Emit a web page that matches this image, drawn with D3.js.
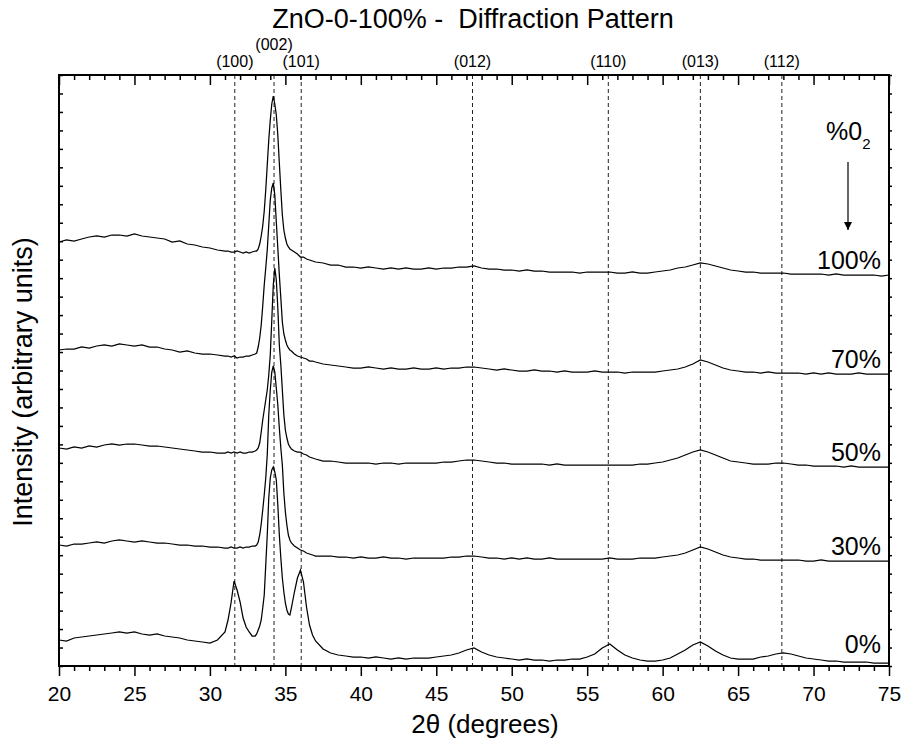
<!DOCTYPE html>
<html>
<head>
<meta charset="utf-8">
<script src="https://cdn.jsdelivr.net/npm/d3@7"></script>
<style>
body { margin: 0; background: #fff; }
text { font-family: "Liberation Sans", Arial, sans-serif; fill: #000; }
</style>
</head>
<body>
<div id="chart"></div>
<script>
// XRD patterns of ZnO films, offset by O2 fraction (arbitrary units)
var twoTheta = [20,20.5,21,21.5,22,22.5,23,23.5,24,24.5,25,25.5,26,26.5,27,27.5,28,28.5,29,29.5,30,30.5,31,
  31.2,31.4,31.6,31.8,32,32.2,32.4,32.6,32.8,
  33,33.1,33.2,33.3,33.4,33.5,33.6,33.7,33.8,33.9,34,34.1,34.2,34.3,34.4,34.5,34.6,34.7,34.8,34.9,35,35.1,35.2,35.3,35.4,
  35.6,35.8,36,36.2,36.4,36.6,36.8,37,
  37.5,38,38.5,39,39.5,40,40.5,41,41.5,42,42.5,43,43.5,44,44.5,45,45.5,46,46.5,47,47.5,48,48.5,49,49.5,50,
  50.5,51,51.5,52,52.5,53,53.5,54,54.5,55,55.5,56,56.5,57,57.5,58,58.5,59,59.5,60,60.5,61,61.5,62,62.5,63,63.5,64,64.5,65,
  65.5,66,66.5,67,67.5,68,68.5,69,69.5,70,70.5,71,71.5,72,72.5,73,73.5,74,74.5,75];

var i100 = [424,426,425,427,429,430,429,431,431,430,432,430,429,428,427,424,425,422,421,419,418,416,415,
  415,414,414,415,414,413,414,413,414,
  415,415,417,422,430,440,455,476,501,526,546,562,570,562,551,531,503,476,451,436,428,422,419,417,416,
  414,412,409,409,407,406,405,404,
  403,401,401,399,399,398, 399,398,397,398,397,398,397,397,398,397, 398,398,399,399,400,398,397,397,396,396,
  395,396,395,395,394,394,394,394,393,394, 394,394,394,393,393,394,393,393,394,395, 396,398,399,401,403,402,400,398,396,395,
  394,394,393,393,393,393,392,392,392,392, 392,391,392,391,391,391,391,391,390,391];

var i70 = [316,317,317,319,318,320,321,320,322,321,320,321,319,319,317,316,314,315,313,312,312,311,310,
  310,309,310,308,309,309,310,310,311,
  312,313,319,328,341,360,381,398,416,441,466,478,483,471,444,418,391,368,344,332,326,321,318,316,315,
  312,310,309,308,307,305,305,304,
  302,301,300,299,298,298, 299,298,297,298,297,297,298,297,297,298, 297,298,298,299,299,298,297,296,297,296,
  295,295,296,295,295,294,295,294,294,294, 295,294,294,294,293,294,294,294,294,295, 296,297,299,302,306,304,301,298,296,295,
  294,294,293,294,293,293,293,293,292,293, 292,293,292,292,292,293,292,292,292,292];

var i50 = [218,217,219,218,220,219,221,222,221,222,222,221,220,220,219,218,217,216,215,214,214,213,213,
  214,213,214,213,214,213,213,214,214,
  215,216,218,223,234,246,256,266,276,291,311,346,381,398,386,358,321,301,276,251,236,228,222,219,217,
  215,214,214,212,211,209,208,207,
  205,205,204,203,203,203, 203,202,203,203,202,203,203,203,203,203, 204,204,205,206,206,205,204,203,203,202,
  202,202,202,202,201,202,201,201,201,201, 201,201,201,201,201,201,202,202,203,204, 206,208,211,214,216,214,211,208,205,204,
  203,202,202,202,203,203,202,201,201,200, 200,200,200,199,200,199,199,199,199,199];

var i30 = [121,120,122,122,123,124,123,125,126,125,124,125,124,123,123,122,121,121,120,120,119,119,118,
  118,119,118,118,119,118,119,119,120,
  120,121,124,131,142,156,171,188,211,251,276,294,300,294,278,261,238,218,201,173,154,141,131,126,123,
  120,118,116,115,113,112,111,110,
  110,110,109,109,108,109, 108,108,109,108,108,107,108,108,108,108, 108,109,109,110,110,109,108,108,107,108,
  107,108,107,107,108,107,107,107,107,107, 107,107,108,107,107,107,108,108,108,109, 110,111,113,116,119,117,114,111,109,108,
  107,107,106,106,106,106,106,106,105,105, 106,105,105,105,105,105,105,105,105,105];

var i0 = [26,25,28,29,30,31,32,33,34,33,34,32,31,32,30,29,28,26,25,24,23,26,34,
  46,63,85,76,64,48,39,34,30,
  30,32,36,40,46,58,71,101,131,168,188,196,199,194,186,161,131,108,88,74,63,56,52,51,58,
  74,88,96,84,59,41,31,25,
  17,13,11,10,9,9, 8,9,8,7,8,7,8,8,8,9, 10,11,13,16,18,14,11,9,8,7,
  6,7,6,6,5,6,6,7,7,9, 12,18,22,16,11,8,6,5,5,6, 8,12,16,21,24,20,15,11,8,7,
  7,7,9,10,12,13,12,10,8,7, 6,5,5,4,4,4,4,3,3,3];

var seriesNames = ["0%", "30%", "50%", "70%", "100%"];
var seriesValues = [i0, i30, i50, i70, i100];

var hklLabels = ["(100)", "(002)", "(101)", "(012)", "(110)", "(013)", "(112)"];
var hklPositions = [31.65, 34.25, 36.05, 47.4, 56.4, 62.5, 67.9];

var xTicks = [20, 25, 30, 35, 40, 45, 50, 55, 60, 65, 70, 75];

var width = 902, height = 745;
var margin = {top: 75, right: 13, bottom: 79, left: 59};

var svg = d3.select("#chart").append("svg")
    .attr("width", width)
    .attr("height", height);

var x = d3.scaleLinear().domain([20, 75]).range([margin.left, width - margin.right]);
var y = d3.scaleLinear().domain([0, 591]).range([height - margin.bottom, margin.top]);

// dashed reference lines
svg.selectAll("line.hkl")
    .data(hklPositions)
    .enter().append("line")
    .attr("class", "hkl")
    .attr("x1", d => x(d)).attr("x2", d => x(d))
    .attr("y1", margin.top).attr("y2", height - margin.bottom)
    .attr("stroke", "#222")
    .attr("stroke-width", 1)
    .attr("stroke-dasharray", "4,3");

svg.selectAll("text.hkl")
    .data(hklLabels)
    .enter().append("text")
    .attr("class", "hkl")
    .attr("x", (d, i) => x(hklPositions[i]))
    .attr("y", (d, i) => d == "(002)" ? 50 : 67)
    .attr("text-anchor", "middle")
    .style("font-size", "16px")
    .text(d => d);

// traces
var line = d3.line()
    .x((d, i) => x(twoTheta[i]))
    .y(d => y(d));

svg.selectAll("path.trace")
    .data(seriesValues)
    .enter().append("path")
    .attr("class", "trace")
    .attr("d", d => line(d))
    .attr("fill", "none")
    .attr("stroke", "#000")
    .attr("stroke-width", 1.25);

svg.selectAll("text.pct")
    .data(seriesNames)
    .enter().append("text")
    .attr("class", "pct")
    .attr("x", x(75) - 8)
    .attr("y", (d, i) => y(seriesValues[i][seriesValues[i].length - 1]) - (i == 0 ? 10 : 6))
    .attr("text-anchor", "end")
    .style("font-size", "25px")
    .text(d => d);

// axes
var minorTicks = d3.range(21, 75, 1).filter(d => d % 5 != 0);

var bottomAxis = svg.append("g")
    .attr("transform", `translate(0, ${height - margin.bottom})`)
    .call(d3.axisBottom(x).tickValues(xTicks).tickSize(10).tickPadding(10).tickFormat(d3.format("d")));
bottomAxis.append("g").call(d3.axisBottom(x).tickValues(minorTicks).tickSize(5).tickFormat(""));

var topAxis = svg.append("g")
    .attr("transform", `translate(0, ${margin.top})`)
    .call(d3.axisBottom(x).tickValues(xTicks).tickSize(10).tickFormat(""));
topAxis.append("g").call(d3.axisBottom(x).tickValues(minorTicks).tickSize(5).tickFormat(""));

var yTicks = d3.range(0, 33).map(i => i * 591 / 32);
svg.append("g")
    .attr("transform", `translate(${margin.left}, 0)`)
    .call(d3.axisRight(y).tickValues(yTicks).tickSize(4).tickFormat(""));
svg.append("g")
    .attr("transform", `translate(${width - margin.right}, 0)`)
    .call(d3.axisRight(y).tickValues(yTicks).tickSize(3).tickFormat(""));

svg.selectAll(".domain").remove();
svg.selectAll(".tick line").attr("stroke", "#000").attr("stroke-width", 1.5);
bottomAxis.selectAll(".tick text")
    .style("font-size", "21px")
    .style("font-family", "'Liberation Sans', Arial, sans-serif")
    .attr("fill", "#000");

svg.append("rect")
    .attr("x", margin.left).attr("y", margin.top)
    .attr("width", width - margin.left - margin.right)
    .attr("height", height - margin.top - margin.bottom)
    .attr("fill", "none")
    .attr("stroke", "#000")
    .attr("stroke-width", 2);

// titles
svg.append("text")
    .attr("x", 473).attr("y", 28)
    .attr("text-anchor", "middle")
    .style("font-size", "27px")
    .style("white-space", "pre")
    .text("ZnO-0-100% -  Diffraction Pattern");

svg.append("text")
    .attr("x", 485).attr("y", 733)
    .attr("text-anchor", "middle")
    .style("font-size", "26px")
    .text("2\u03B8 (degrees)");

svg.append("text")
    .attr("transform", "translate(32, 382) rotate(-90)")
    .attr("text-anchor", "middle")
    .style("font-size", "27px")
    .text("Intensity (arbitrary units)");

// O2 arrow annotation
var o2 = svg.append("text")
    .attr("x", 826).attr("y", 140)
    .style("font-size", "25px");
o2.append("tspan").text("%0");
o2.append("tspan").attr("dy", 9).style("font-size", "15px").text("2");

svg.append("defs").append("marker")
    .attr("id", "head")
    .attr("viewBox", "0 0 10 10")
    .attr("refX", 10).attr("refY", 5)
    .attr("markerWidth", 15).attr("markerHeight", 8)
    .attr("markerUnits", "userSpaceOnUse")
    .attr("orient", "auto")
    .append("path").attr("d", "M0,0L10,5L0,10Z").attr("fill", "#000");

svg.append("line")
    .attr("x1", 848).attr("x2", 848)
    .attr("y1", 162).attr("y2", 230)
    .attr("stroke", "#000")
    .attr("stroke-width", 1.2)
    .attr("marker-end", "url(#head)");
</script>
</body>
</html>
